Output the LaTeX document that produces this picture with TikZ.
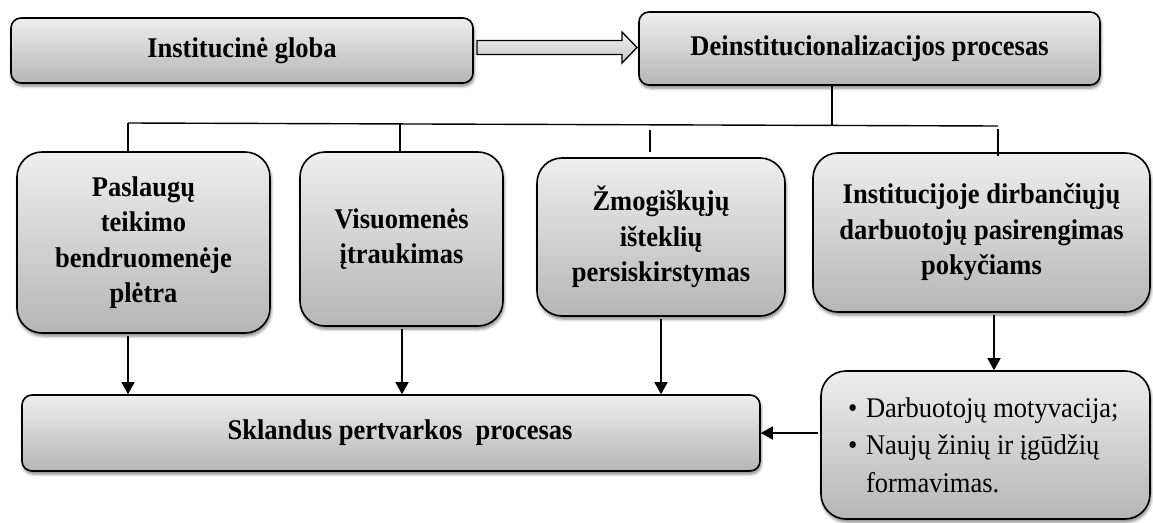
\documentclass[tikz,border=0pt]{standalone}
\usepackage{fontspec}
\setmainfont{Liberation Serif}[FakeStretch=0.93]
\usetikzlibrary{arrows.meta,shadows.blur,calc}
\definecolor{boxtop}{RGB}{238,238,238}
\definecolor{boxbot}{RGB}{182,182,182}
\definecolor{arrtop}{RGB}{240,240,240}
\definecolor{arrbot}{RGB}{200,200,200}
\begin{document}
\begin{tikzpicture}[x=1pt,y=-1pt,
  box/.style={draw=black, line width=1.6pt, top color=boxtop, bottom color=boxbot,
    align=center, inner sep=0pt,
    blur shadow={shadow xshift=1pt, shadow yshift=-3pt, shadow blur radius=3pt, shadow opacity=50},
    font=\fontsize{28.5}{35.5}\selectfont\bfseries},
  flat/.style={box, rounded corners=10pt},
  tall/.style={box, rounded corners=25pt},
  link/.style={line width=1.4pt},
  feed/.style={link, -{Triangle[length=12pt,width=13pt]}, shorten <=2pt},
  hollow/.style={draw=black, line width=1.3pt, top color=arrtop, bottom color=arrbot}]
\useasboundingbox (0,0) rectangle (1153,522);

% top row
\node[flat, minimum width=462pt, minimum height=65pt] (g) at (242,50.5) {Institucinė globa};
\node[flat, minimum width=461pt, minimum height=73pt] (d) at (869.5,48.5) {Deinstitucionalizacijos procesas};

% block arrow between the top boxes
\draw[hollow] (477,40.5) -- (622,40.5) -- (622,32) -- (637,47.5) -- (622,63)
  -- (622,54.5) -- (477,54.5) -- cycle;

% four directions
\node[tall, minimum width=253pt, minimum height=181pt] (p) at (143.5,242.5)
  {Paslaugų\\teikimo\\bendruomenėje\\plėtra};
\node[tall, minimum width=203pt, minimum height=174pt] (v) at (401.5,239)
  {Visuomenės\\įtraukimas};
\node[tall, minimum width=248pt, minimum height=158pt] (z) at (661,237)
  {Žmogiškųjų\\išteklių\\persiskirstymas};
\node[tall, minimum width=337pt, minimum height=159pt] (i) at (981.5,232.5)
  {Institucijoje dirbančiųjų\\darbuotojų pasirengimas\\pokyčiams};

% result and staff measures
\node[flat, minimum width=738pt, minimum height=76pt] (s) at (391,433)
  {\hspace*{18pt}Sklandus pertvarkos\ \ procesas};
\node[tall, minimum width=329pt, minimum height=148pt, align=flush left, text width=275pt,
  font=\fontsize{28.5}{37.5}\selectfont] (b) at (985.5,445)
  {\makebox[18pt][l]{•}Darbuotojų motyvacija;\\
   \makebox[18pt][l]{•}Naujų žinių ir įgūdžių\\
   \hspace*{18pt}formavimas.};

% branching line
\coordinate (j1) at (128,123);
\coordinate (j2) at (400,124);
\coordinate (jd) at (832,125);
\coordinate (j4) at (998,126);
\coordinate (t3) at (650,130);
\coordinate (t4) at (998,129);
\draw[link] (j1) -- (j4);
\draw[link] (d.south -| jd) -- (jd);
\draw[link] (j1) -- (j1 |- p.north);
\draw[link] (j2) -- (j2 |- v.north);
\draw[link] (t3) -- ($(t3 |- z.north)+(0,-5)$);
\draw[link] (t4) -- ($(t4 |- i.north)+(0,4)$);

% arrows to the result
\coordinate (a1) at (128,0);
\coordinate (a2) at (402,0);
\coordinate (a4) at (994,0);
\draw[feed] (p.south -| a1) -- (a1 |- s.north);
\draw[feed] (v.south -| a2) -- (a2 |- s.north);
\draw[feed] (z.south) -- (z.south |- s.north);
\draw[feed] (i.south -| a4) -- (a4 |- b.north);
\draw[feed] (b.west |- s.east) -- (s.east);
\end{tikzpicture}
\end{document}
